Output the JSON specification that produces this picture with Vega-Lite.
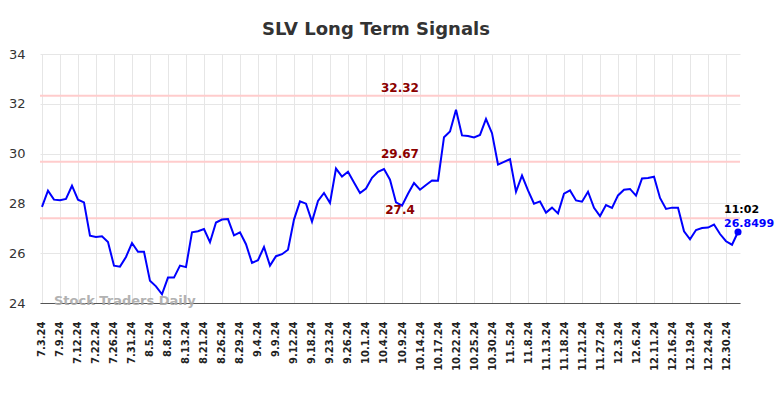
{
  "$schema": "https://vega.github.io/schema/vega-lite/v6.json",
  "width": 700,
  "height": 249,
  "autosize": {"type": "none"},
  "padding": {"left": 40, "top": 54, "right": 44, "bottom": 95},
  "background": "white",
  "title": {"text": "SLV Long Term Signals", "font": "DejaVu Sans", "fontSize": 18, "fontWeight": "bold", "color": "#333333", "anchor": "middle", "baseline": "alphabetic", "offset": -5, "dx": -14},
  "config": {"view": {"stroke": null}},
  "datasets": {
    "prices": [
      {"date": "7.3.24", "value": 27.86}, {"date": "7.5.24", "value": 28.51}, {"date": "7.8.24", "value": 28.15},
      {"date": "7.9.24", "value": 28.13}, {"date": "7.10.24", "value": 28.18}, {"date": "7.11.24", "value": 28.71},
      {"date": "7.12.24", "value": 28.15}, {"date": "7.16.24", "value": 28.04}, {"date": "7.18.24", "value": 26.70},
      {"date": "7.22.24", "value": 26.65}, {"date": "7.23.24", "value": 26.68}, {"date": "7.24.24", "value": 26.45},
      {"date": "7.26.24", "value": 25.50}, {"date": "7.29.24", "value": 25.46}, {"date": "7.30.24", "value": 25.85},
      {"date": "7.31.24", "value": 26.41}, {"date": "8.1.24", "value": 26.06}, {"date": "8.2.24", "value": 26.06},
      {"date": "8.5.24", "value": 24.89}, {"date": "8.6.24", "value": 24.67}, {"date": "8.7.24", "value": 24.35},
      {"date": "8.8.24", "value": 25.02}, {"date": "8.9.24", "value": 25.02}, {"date": "8.12.24", "value": 25.50},
      {"date": "8.13.24", "value": 25.44}, {"date": "8.15.24", "value": 26.84}, {"date": "8.19.24", "value": 26.88},
      {"date": "8.21.24", "value": 26.97}, {"date": "8.22.24", "value": 26.44}, {"date": "8.23.24", "value": 27.23},
      {"date": "8.26.24", "value": 27.35}, {"date": "8.27.24", "value": 27.37}, {"date": "8.28.24", "value": 26.72},
      {"date": "8.29.24", "value": 26.84}, {"date": "8.30.24", "value": 26.36}, {"date": "9.3.24", "value": 25.61},
      {"date": "9.4.24", "value": 25.72}, {"date": "9.5.24", "value": 26.25}, {"date": "9.6.24", "value": 25.50},
      {"date": "9.9.24", "value": 25.88}, {"date": "9.10.24", "value": 25.96}, {"date": "9.11.24", "value": 26.14},
      {"date": "9.12.24", "value": 27.35}, {"date": "9.13.24", "value": 28.08}, {"date": "9.16.24", "value": 27.99},
      {"date": "9.18.24", "value": 27.27}, {"date": "9.19.24", "value": 28.10}, {"date": "9.20.24", "value": 28.42},
      {"date": "9.23.24", "value": 28.02}, {"date": "9.24.24", "value": 29.40}, {"date": "9.25.24", "value": 29.08},
      {"date": "9.26.24", "value": 29.27}, {"date": "9.27.24", "value": 28.84}, {"date": "9.30.24", "value": 28.42},
      {"date": "10.1.24", "value": 28.60}, {"date": "10.2.24", "value": 29.03}, {"date": "10.3.24", "value": 29.27},
      {"date": "10.4.24", "value": 29.38}, {"date": "10.7.24", "value": 28.95}, {"date": "10.8.24", "value": 28.04},
      {"date": "10.9.24", "value": 27.91}, {"date": "10.10.24", "value": 28.39}, {"date": "10.11.24", "value": 28.82},
      {"date": "10.14.24", "value": 28.55}, {"date": "10.15.24", "value": 28.74}, {"date": "10.16.24", "value": 28.92},
      {"date": "10.17.24", "value": 28.91}, {"date": "10.18.24", "value": 30.66}, {"date": "10.21.24", "value": 30.89},
      {"date": "10.22.24", "value": 31.76}, {"date": "10.23.24", "value": 30.73}, {"date": "10.24.24", "value": 30.71},
      {"date": "10.25.24", "value": 30.65}, {"date": "10.28.24", "value": 30.75}, {"date": "10.29.24", "value": 31.39},
      {"date": "10.30.24", "value": 30.82}, {"date": "10.31.24", "value": 29.56}, {"date": "11.4.24", "value": 29.67},
      {"date": "11.5.24", "value": 29.78}, {"date": "11.6.24", "value": 28.47}, {"date": "11.7.24", "value": 29.12},
      {"date": "11.8.24", "value": 28.52}, {"date": "11.11.24", "value": 27.99}, {"date": "11.12.24", "value": 28.08},
      {"date": "11.13.24", "value": 27.63}, {"date": "11.14.24", "value": 27.83}, {"date": "11.15.24", "value": 27.60},
      {"date": "11.18.24", "value": 28.39}, {"date": "11.19.24", "value": 28.52}, {"date": "11.20.24", "value": 28.12},
      {"date": "11.21.24", "value": 28.07}, {"date": "11.22.24", "value": 28.47}, {"date": "11.26.24", "value": 27.82},
      {"date": "11.27.24", "value": 27.49}, {"date": "11.29.24", "value": 27.93}, {"date": "12.2.24", "value": 27.82},
      {"date": "12.3.24", "value": 28.32}, {"date": "12.4.24", "value": 28.55}, {"date": "12.5.24", "value": 28.58},
      {"date": "12.6.24", "value": 28.31}, {"date": "12.9.24", "value": 29.00}, {"date": "12.10.24", "value": 29.02},
      {"date": "12.11.24", "value": 29.07}, {"date": "12.12.24", "value": 28.22}, {"date": "12.13.24", "value": 27.78},
      {"date": "12.16.24", "value": 27.83}, {"date": "12.17.24", "value": 27.83}, {"date": "12.18.24", "value": 26.88},
      {"date": "12.19.24", "value": 26.56}, {"date": "12.20.24", "value": 26.93}, {"date": "12.23.24", "value": 27.01},
      {"date": "12.24.24", "value": 27.03}, {"date": "12.26.24", "value": 27.15}, {"date": "12.27.24", "value": 26.77},
      {"date": "12.30.24", "value": 26.48}, {"date": "12.31.24", "value": 26.34}, {"date": "1.2.25", "value": 26.8499, "time": "11:02"}
    ],
    "signals": [{"level": 32.32}, {"level": 29.67}, {"level": 27.4}]
  },
  "data": {"name": "prices"},
  "encoding": {
    "x": {
      "field": "date", "type": "ordinal", "sort": null,
      "scale": {"type": "point", "padding": 0.33},
      "axis": {
        "title": null,
        "values": ["7.3.24","7.9.24","7.12.24","7.22.24","7.26.24","7.31.24","8.5.24","8.8.24","8.13.24","8.21.24","8.26.24","8.29.24","9.4.24","9.9.24","9.12.24","9.18.24","9.23.24","9.26.24","10.1.24","10.4.24","10.9.24","10.14.24","10.17.24","10.22.24","10.25.24","10.30.24","11.5.24","11.8.24","11.13.24","11.18.24","11.21.24","11.27.24","12.3.24","12.6.24","12.11.24","12.16.24","12.19.24","12.24.24","12.30.24"],
        "labelAngle": -90, "labelFont": "DejaVu Sans", "labelFontSize": 10, "labelFontWeight": "bold", "labelColor": "#222222",
        "labelPadding": 18, "ticks": false, "domainColor": "#555555", "domainWidth": 1,
        "grid": true, "gridColor": "#e6e6e6", "gridWidth": 1, "labelOverlap": false
      }
    }
  },
  "layer": [
    {
      "data": {"name": "signals"},
      "mark": {"type": "rule", "color": "#ffcccc", "strokeWidth": 2},
      "encoding": {"x": null, "y": {"field": "level", "type": "quantitative"}}
    },
    {
      "mark": {"type": "line", "color": "#0000ff", "strokeWidth": 2},
      "encoding": {
        "y": {
          "field": "value", "type": "quantitative",
          "scale": {"domain": [24, 34], "nice": false, "zero": false},
          "axis": {
            "title": null, "values": [24, 26, 28, 30, 32, 34], "labelFont": "DejaVu Sans", "labelFontSize": 13,
            "labelColor": "#333333", "labelPadding": 15, "ticks": false, "domain": false,
            "grid": true, "gridColor": "#e6e6e6", "gridWidth": 1
          }
        }
      }
    },
    {
      "data": {"name": "signals"},
      "mark": {"type": "text", "font": "DejaVu Sans", "fontSize": 12, "fontWeight": "bold", "color": "#8b0000", "baseline": "alphabetic", "align": "center", "dy": -4, "dx": -2},
      "encoding": {
        "x": {"datum": "10.9.24"},
        "y": {"field": "level", "type": "quantitative"},
        "text": {"field": "level", "type": "quantitative"}
      }
    },
    {
      "transform": [{"filter": "datum.time != null"}],
      "mark": {"type": "point", "filled": true, "color": "#0000ff", "size": 50, "opacity": 1},
      "encoding": {"y": {"field": "value", "type": "quantitative"}}
    },
    {
      "transform": [{"filter": "datum.time != null"}],
      "mark": {"type": "text", "font": "DejaVu Sans", "fontSize": 11, "fontWeight": "bold", "color": "#000000", "align": "left", "baseline": "alphabetic", "dx": -14, "dy": -19},
      "encoding": {"y": {"field": "value", "type": "quantitative"}, "text": {"field": "time"}}
    },
    {
      "transform": [{"filter": "datum.time != null"}],
      "mark": {"type": "text", "font": "DejaVu Sans", "fontSize": 11, "fontWeight": "bold", "color": "#0000ff", "align": "left", "baseline": "alphabetic", "dx": -14, "dy": -5},
      "encoding": {"y": {"field": "value", "type": "quantitative"}, "text": {"field": "value", "type": "quantitative", "format": ".4f"}}
    },
    {
      "data": {"values": [{"label": "Stock Traders Daily"}]},
      "mark": {"type": "text", "font": "DejaVu Sans", "fontSize": 13, "fontWeight": "bold", "color": "#aaaaaa", "opacity": 0.9, "align": "left", "baseline": "alphabetic", "dy": 2},
      "encoding": {
        "x": {"datum": "7.8.24"},
        "y": {"datum": 24},
        "text": {"field": "label"}
      }
    }
  ]
}
